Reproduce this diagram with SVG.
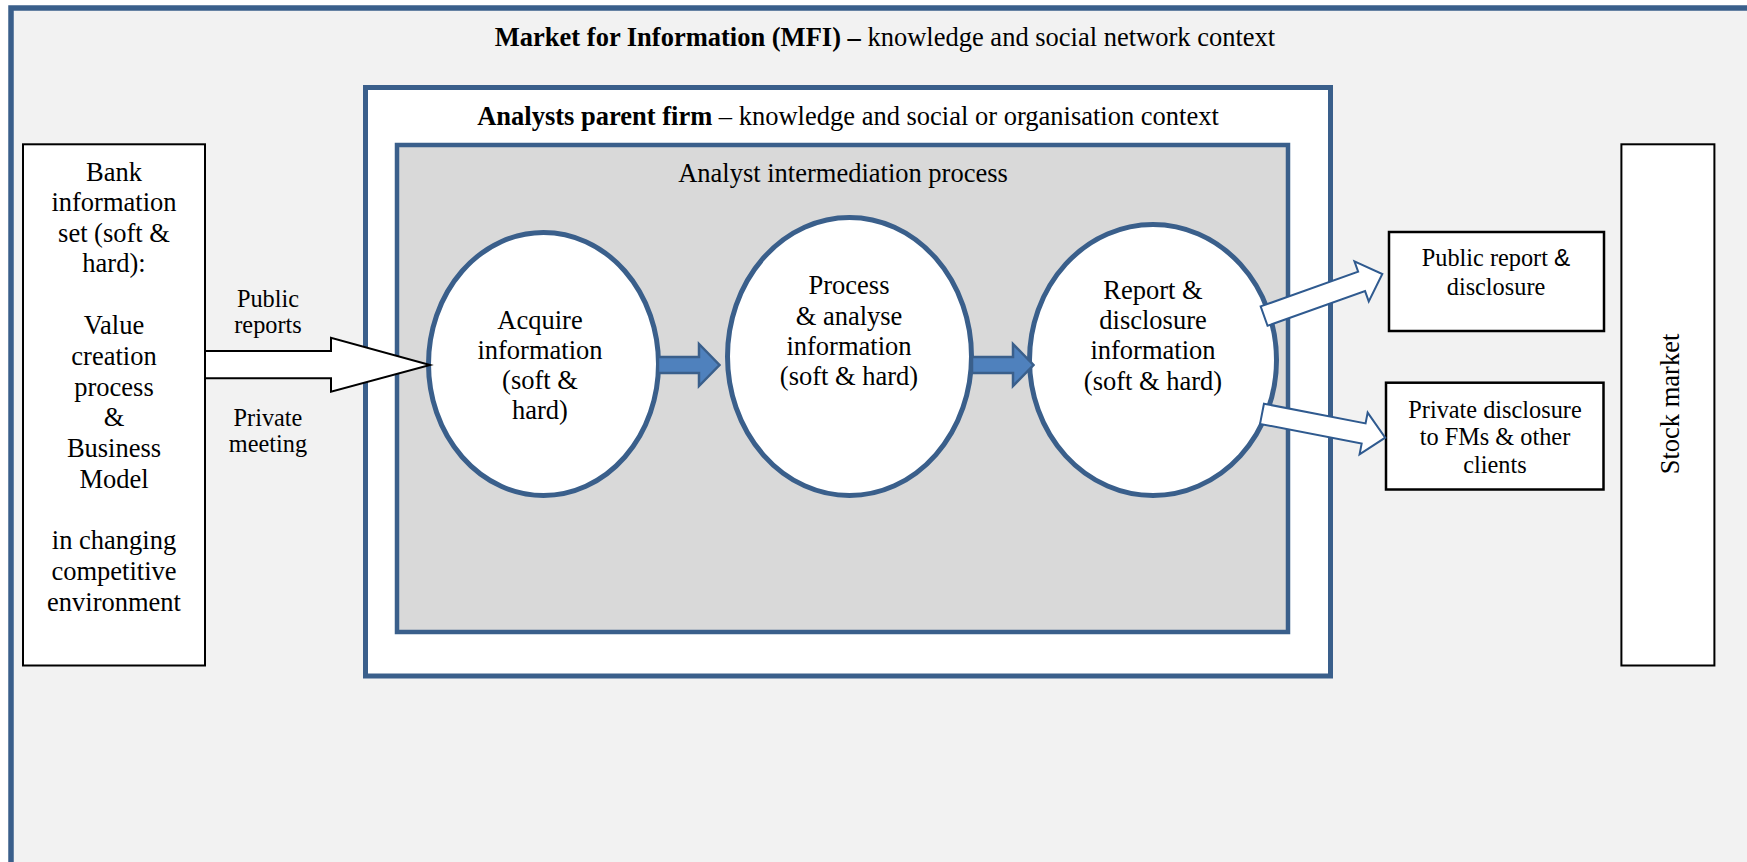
<svg xmlns="http://www.w3.org/2000/svg" width="1747" height="862" viewBox="0 0 1747 862">
<style>
  text { font-family: 'Liberation Serif', 'Times New Roman', serif; fill: #000; }
  .t { font-size: 26.5px; text-anchor: middle; }
  .s { font-size: 24.3px; text-anchor: middle; }
  .b { font-weight: bold; }
  .ell { fill: #FFFFFF; stroke: #3A5F8B; stroke-width: 5; }
  .box { fill: #FFFFFF; stroke: #000; }
  .blueArrow { fill: #4F81BD; stroke: #3A5F8B; stroke-width: 2.5; stroke-linejoin: miter; }
  .outArrow { fill: #FFFFFF; stroke: #2F5A8F; stroke-width: 2; stroke-linejoin: miter; }
  .inArrow { fill: #FFFFFF; stroke: #000; stroke-width: 2; stroke-linejoin: miter; }
</style>
<defs>
  <path id="blockArrow" d="M0,-8 H41 V-21 L61.5,0 L41,21 V8 H0 Z"/>
  <path id="wideArrow" d="M0,-10.3 H103.5 V-21.3 L125.5,0 L103.5,21.3 V10.3 H0 Z"/>
</defs>
<rect x="0" y="0" width="1747" height="862" fill="#FFFFFF"/>

<g id="mfi-frame">
  <rect x="11" y="8" width="1800" height="900" fill="#F2F2F2" stroke="#3A5F8B" stroke-width="5.5"/>
  <text class="t" x="885" y="46"><tspan class="b">Market for Information (MFI) –</tspan> knowledge and social network context</text>
</g>

<g id="parent-firm">
  <rect x="365.5" y="87.5" width="965" height="588.5" fill="#FFFFFF" stroke="#3A5F8B" stroke-width="5"/>
  <text class="t" x="848" y="125"><tspan class="b">Analysts parent firm</tspan> – knowledge and social or organisation context</text>
</g>

<g id="intermediation-process">
  <rect x="397" y="145" width="891" height="487" fill="#D9D9D9" stroke="#3A5F8B" stroke-width="4.5"/>
  <text class="t" x="843" y="182">Analyst intermediation process</text>
</g>

<g id="acquire">
  <ellipse class="ell" cx="543.5" cy="364" rx="115" ry="131.5"/>
  <text class="t" x="540" y="328.5">Acquire</text>
  <text class="t" x="540" y="358.5">information</text>
  <text class="t" x="540" y="388.5">(soft &amp;</text>
  <text class="t" x="540" y="419">hard)</text>
</g>

<g id="process">
  <ellipse class="ell" cx="849.5" cy="356.5" rx="122" ry="139"/>
  <text class="t" x="849" y="294">Process</text>
  <text class="t" x="849" y="325">&amp; analyse</text>
  <text class="t" x="849" y="355">information</text>
  <text class="t" x="849" y="385">(soft &amp; hard)</text>
</g>

<g id="report">
  <ellipse class="ell" cx="1153" cy="360" rx="123.5" ry="135.5"/>
  <text class="t" x="1153" y="299">Report &amp;</text>
  <text class="t" x="1153" y="329">disclosure</text>
  <text class="t" x="1153" y="359">information</text>
  <text class="t" x="1153" y="390">(soft &amp; hard)</text>
</g>

<g id="bank">
  <rect class="box" x="23" y="144.3" width="182" height="521.2" stroke-width="2"/>
  <text class="t" x="114" y="180.5">Bank</text>
  <text class="t" x="114" y="211">information</text>
  <text class="t" x="114" y="242">set (soft &amp;</text>
  <text class="t" x="114" y="272">hard):</text>
  <text class="t" x="114" y="334">Value</text>
  <text class="t" x="114" y="365">creation</text>
  <text class="t" x="114" y="395.5">process</text>
  <text class="t" x="114" y="426">&amp;</text>
  <text class="t" x="114" y="457">Business</text>
  <text class="t" x="114" y="487.5">Model</text>
  <text class="t" x="114" y="549">in changing</text>
  <text class="t" x="114" y="579.5">competitive</text>
  <text class="t" x="114" y="610.5">environment</text>
</g>

<g id="public-report">
  <rect class="box" x="1389" y="232" width="215" height="99" stroke-width="2.5"/>
  <text class="s" x="1496" y="266">Public report <tspan font-family="'Liberation Sans', Arial, sans-serif">&amp;</tspan></text>
  <text class="s" x="1496" y="295">disclosure</text>
</g>

<g id="private-disclosure">
  <rect class="box" x="1386" y="382.7" width="217.5" height="106.8" stroke-width="2.5"/>
  <text class="s" x="1495" y="417.5">Private disclosure</text>
  <text class="s" x="1495" y="444.5">to FMs &amp; other</text>
  <text class="s" x="1495" y="472.5">clients</text>
</g>

<g id="stock-market">
  <rect class="box" x="1621.4" y="144.3" width="93" height="521.2" stroke-width="2"/>
  <text class="t" transform="translate(1679,404) rotate(-90)" x="0" y="0">Stock market</text>
</g>

<g id="connectors">
  <polygon class="inArrow" points="205,351 331,351 331,337.7 430,365 331,391.7 331,378.3 205,378.3"/>
  <use href="#blockArrow" class="blueArrow" transform="translate(658,365)"/>
  <use href="#blockArrow" class="blueArrow" transform="translate(972,365)"/>
  <use href="#wideArrow" class="outArrow" transform="translate(1264.1,316.1) rotate(-19.6)"/>
  <use href="#wideArrow" class="outArrow" transform="translate(1262,413.8) rotate(10.96)"/>
  <text class="s" x="268" y="307">Public</text>
  <text class="s" x="268" y="333">reports</text>
  <text class="s" x="268" y="425.5">Private</text>
  <text class="s" x="268" y="452">meeting</text>
</g>
</svg>
